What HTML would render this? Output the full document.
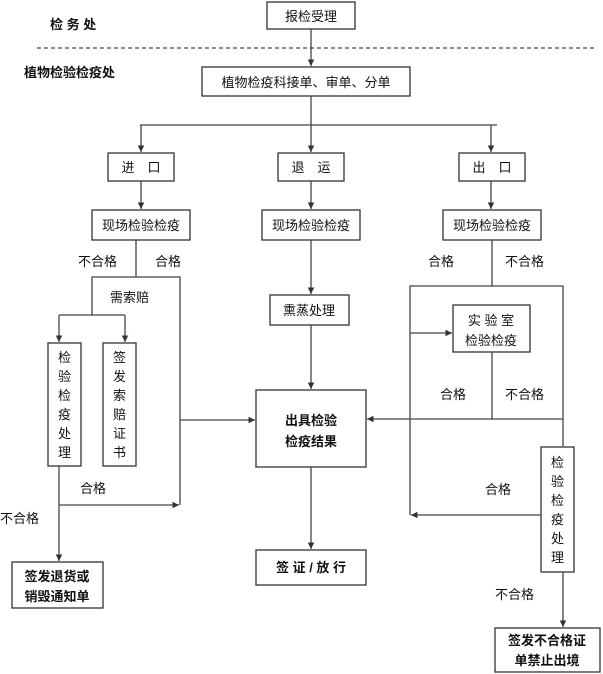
<!DOCTYPE html>
<html><head><meta charset="utf-8"><style>
html,body{margin:0;padding:0;background:#fff;}
svg{display:block;font-family:"Liberation Sans","Noto Sans CJK SC",sans-serif;}
text{fill:#111;font-size:13px;}
.b{font-weight:bold;}
rect{fill:#fff;stroke:#333;stroke-width:1.3;}
line,polyline{stroke:#444;stroke-width:1.3;fill:none;}
</style></head><body>
<svg width="603" height="674" viewBox="0 0 603 674">
<defs><marker id="a" viewBox="0 0 6 6" refX="6" refY="3" markerWidth="5" markerHeight="5" orient="auto"><path d="M0,0L6,3L0,6z" fill="#333"/></marker></defs>
<text x="50" y="29" class="b" font-size="13">检 务 处</text>
<line x1="37" y1="48" x2="596" y2="48" stroke-dasharray="4,3"/>
<text x="24" y="77" class="b" font-size="12">植物检验检疫处</text>
<rect x="267" y="2" width="88" height="27"/><text x="311" y="21" text-anchor="middle">报检受理</text>
<line x1="311" y1="29" x2="311" y2="66" marker-end="url(#a)"/>
<rect x="202" y="67" width="208" height="29"/><text x="306" y="87" text-anchor="middle">植物检疫科接单、审单、分单</text>
<line x1="311" y1="96" x2="311" y2="125"/>
<line x1="140" y1="125" x2="497" y2="125"/>
<line x1="141" y1="125" x2="141" y2="152" marker-end="url(#a)"/>
<line x1="311" y1="125" x2="311" y2="152" marker-end="url(#a)"/>
<line x1="491" y1="125" x2="491" y2="152" marker-end="url(#a)"/>
<rect x="108" y="153" width="66" height="28"/><text x="141" y="172" text-anchor="middle">进　口</text>
<rect x="278" y="153" width="66" height="28"/><text x="311" y="172" text-anchor="middle">退　运</text>
<rect x="459" y="153" width="66" height="28"/><text x="492" y="172" text-anchor="middle">出　口</text>
<line x1="141" y1="181" x2="141" y2="209" marker-end="url(#a)"/>
<line x1="311" y1="181" x2="311" y2="209" marker-end="url(#a)"/>
<line x1="491" y1="181" x2="491" y2="209" marker-end="url(#a)"/>
<rect x="92" y="210" width="98" height="30"/><text x="141" y="230" text-anchor="middle">现场检验检疫</text>
<rect x="262" y="210" width="98" height="30"/><text x="311" y="230" text-anchor="middle">现场检验检疫</text>
<rect x="443" y="210" width="98" height="30"/><text x="492" y="230" text-anchor="middle">现场检验检疫</text>
<!-- left -->
<line x1="136" y1="240" x2="136" y2="277"/>
<text x="78" y="266" font-size="12">不合格</text><text x="155" y="266" font-size="12">合格</text>
<polyline points="92,315 92,277 180,277 180,505"/>
<text x="110" y="302" font-size="12">需索赔</text>
<line x1="59" y1="315" x2="125" y2="315"/>
<line x1="59" y1="315" x2="59" y2="342" marker-end="url(#a)"/>
<line x1="125" y1="315" x2="125" y2="342" marker-end="url(#a)"/>
<rect x="48" y="343" width="33" height="123"/>
<text x="64.5" font-size="14" text-anchor="middle"><tspan x="64.5" y="362">检</tspan><tspan x="64.5" y="381">验</tspan><tspan x="64.5" y="400">检</tspan><tspan x="64.5" y="419">疫</tspan><tspan x="64.5" y="438">处</tspan><tspan x="64.5" y="457">理</tspan></text>
<rect x="103" y="343" width="33" height="123"/>
<text x="119.5" font-size="14" text-anchor="middle"><tspan x="119.5" y="362">签</tspan><tspan x="119.5" y="381">发</tspan><tspan x="119.5" y="400">索</tspan><tspan x="119.5" y="419">赔</tspan><tspan x="119.5" y="438">证</tspan><tspan x="119.5" y="457">书</tspan></text>
<line x1="180" y1="420" x2="255" y2="420" marker-end="url(#a)"/>
<line x1="59" y1="466" x2="59" y2="561" marker-end="url(#a)"/>
<line x1="59" y1="505" x2="179" y2="505" marker-end="url(#a)"/>
<text x="80" y="493" font-size="12">合格</text>
<text x="0" y="523" font-size="12">不合格</text>
<rect x="12" y="562" width="91" height="46"/>
<text x="57" y="581" class="b" text-anchor="middle">签发退货或</text><text x="57" y="601" class="b" text-anchor="middle">销毁通知单</text>
<!-- middle -->
<line x1="311" y1="240" x2="311" y2="294" marker-end="url(#a)"/>
<rect x="270" y="295" width="79" height="30"/><text x="309" y="315" text-anchor="middle">熏蒸处理</text>
<line x1="311" y1="325" x2="311" y2="389" marker-end="url(#a)"/>
<rect x="256" y="390" width="110" height="77"/>
<text x="311" y="425" class="b" text-anchor="middle">出具检验</text><text x="311" y="446" class="b" text-anchor="middle">检疫结果</text>
<line x1="311" y1="467" x2="311" y2="549" marker-end="url(#a)"/>
<rect x="256" y="550" width="110" height="35"/><text x="311" y="572" class="b" text-anchor="middle">签 证 / 放 行</text>
<!-- right -->
<line x1="492" y1="240" x2="492" y2="286"/>
<text x="428" y="266" font-size="12">合格</text><text x="505" y="266" font-size="12">不合格</text>
<polyline points="410,515 410,286 563,286 563,446"/>
<line x1="410" y1="333" x2="452" y2="333" marker-end="url(#a)"/>
<rect x="453" y="305" width="77" height="47"/>
<text x="491" y="325" text-anchor="middle" font-size="14">实 验 室</text><text x="491" y="345" text-anchor="middle">检验检疫</text>
<line x1="492" y1="352" x2="492" y2="419"/>
<text x="440" y="399" font-size="12">合格</text><text x="505" y="399" font-size="12">不合格</text>
<line x1="563" y1="419" x2="367" y2="419" marker-end="url(#a)"/>
<rect x="541" y="447" width="33" height="125"/>
<text x="557.5" font-size="14" text-anchor="middle"><tspan x="557.5" y="467">检</tspan><tspan x="557.5" y="486">验</tspan><tspan x="557.5" y="505">检</tspan><tspan x="557.5" y="524">疫</tspan><tspan x="557.5" y="543">处</tspan><tspan x="557.5" y="562">理</tspan></text>
<line x1="541" y1="515" x2="411" y2="515" marker-end="url(#a)"/>
<text x="485" y="494" font-size="12">合格</text>
<line x1="563" y1="572" x2="563" y2="627" marker-end="url(#a)"/>
<text x="495" y="599" font-size="12">不合格</text>
<rect x="495" y="628" width="105" height="44"/>
<text x="547" y="645" class="b" text-anchor="middle">签发不合格证</text><text x="547" y="665" class="b" text-anchor="middle">单禁止出境</text>
</svg>
</body></html>
